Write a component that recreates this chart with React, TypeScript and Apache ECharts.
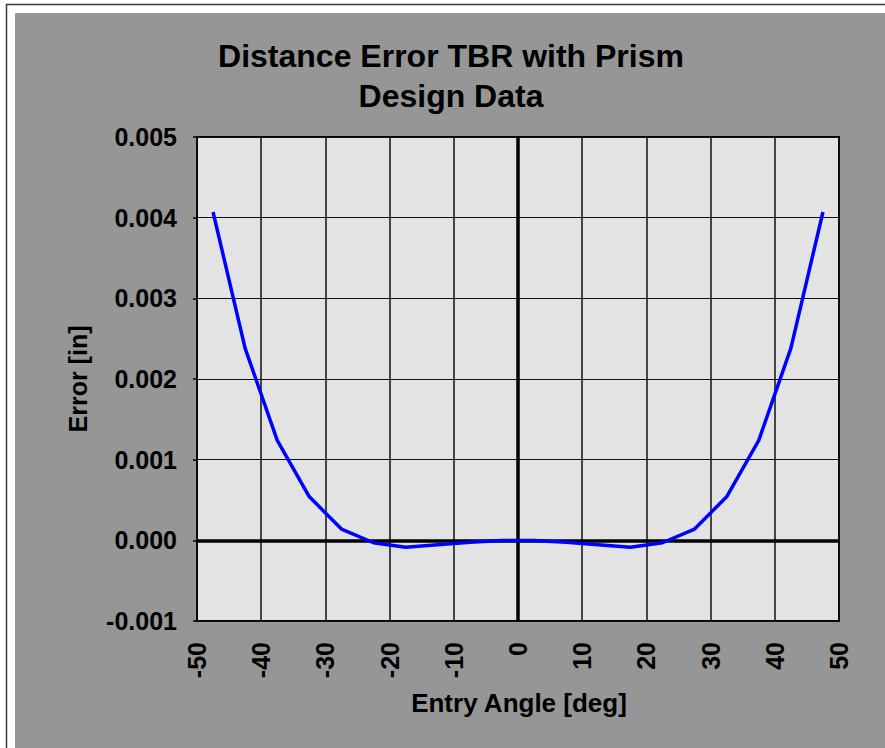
import React, { useEffect, useRef } from "react";
import * as echarts from "echarts";

const chartTitle = "Distance Error TBR with Prism\nDesign Data";
const xAxisName = "Entry Angle [deg]";
const yAxisName = "Error [in]";
const entryAngles = [-47.5, -42.5, -37.5, -32.5, -27.5, -22.5, -17.5, -12.5, -7.5, -2.5, 2.5, 7.5, 12.5, 17.5, 22.5, 27.5, 32.5, 37.5, 42.5, 47.5];
const errorValues = [0.00407, 0.00238, 0.00124, 0.00054, 0.00014, -0.00003, -0.000085, -0.000055, -0.000025, -0.000003, -0.000003, -0.000025, -0.000055, -0.000085, -0.00003, 0.00014, 0.00054, 0.00124, 0.00238, 0.00407];

const FONT = "'Liberation Sans', Arial, sans-serif";

export default function App() {
  const ref = useRef<HTMLDivElement>(null);
  useEffect(() => {
    if (!ref.current) return;
    const chart = echarts.init(ref.current, undefined, { renderer: "svg" });
    const data = entryAngles.map((a, i) => [a, errorValues[i]]);
    chart.setOption({
      animation: false,
      backgroundColor: "#ffffff",
      graphic: [
        {
          type: "rect",
          z: -100,
          shape: { x: 6.5, y: 4.5, width: 1000, height: 1000 },
          style: { fill: "#ffffff", stroke: "#3a3a3a", lineWidth: 1.5 },
          silent: true,
        },
        {
          type: "rect",
          z: -99,
          shape: { x: 15, y: 13, width: 1000, height: 1000 },
          style: { fill: "#969696" },
          silent: true,
        },
        {
          type: "text",
          x: 451,
          y: 36,
          style: {
            text: chartTitle,
            fill: "#000",
            fontSize: 32,
            fontWeight: "bold",
            fontFamily: FONT,
            lineHeight: 40,
            textAlign: "center",
            textVerticalAlign: "top",
          },
        },
        {
          type: "text",
          x: 519,
          y: 703,
          style: {
            text: xAxisName,
            fill: "#000",
            fontSize: 26,
            fontWeight: "bold",
            fontFamily: FONT,
            textAlign: "center",
            textVerticalAlign: "middle",
          },
        },
        {
          type: "text",
          x: 78,
          y: 379,
          rotation: Math.PI / 2,
          style: {
            text: yAxisName,
            fill: "#000",
            fontSize: 25,
            fontWeight: "bold",
            fontFamily: FONT,
            textAlign: "center",
            textVerticalAlign: "middle",
          },
        },
      ],
      grid: {
        left: 197,
        top: 137,
        width: 642,
        height: 484,
        show: true,
        backgroundColor: "#e3e3e3",
        borderColor: "#000",
        borderWidth: 2,
        containLabel: false,
      },
      xAxis: {
        type: "value",
        min: -50,
        max: 50,
        interval: 10,
        axisLine: { show: false, onZero: false },
        axisTick: { show: false },
        splitLine: { show: true, lineStyle: { color: "#111", width: 1.5 } },
        axisLabel: {
          rotate: 90,
          margin: 21,
          color: "#000",
          fontSize: 25,
          fontWeight: "bold",
          fontFamily: FONT,
          showMinLabel: true,
          showMaxLabel: true,
        },
      },
      yAxis: {
        type: "value",
        min: -0.001,
        max: 0.005,
        interval: 0.001,
        axisLine: { show: false, onZero: false },
        axisTick: { show: true, length: 4, lineStyle: { color: "#000", width: 1.5 } },
        splitLine: { show: true, lineStyle: { color: "#111", width: 1.2 } },
        axisLabel: {
          margin: 20,
          color: "#000",
          fontSize: 25,
          fontWeight: "bold",
          fontFamily: FONT,
          formatter: (v: number) => v.toFixed(3),
          showMinLabel: true,
          showMaxLabel: true,
        },
      },
      series: [
        {
          type: "line",
          data,
          showSymbol: false,
          symbol: "none",
          lineStyle: { color: "#0000ff", width: 3.5 },
          z: 5,
          markLine: {
            silent: true,
            symbol: "none",
            label: { show: false },
            lineStyle: { color: "#000", width: 3.5, type: "solid" },
            z: 3,
            data: [{ yAxis: 0 }, { xAxis: 0 }],
          },
        },
      ],
    });
    return () => chart.dispose();
  }, []);
  return (
    <div
      ref={ref}
      style={{ position: "absolute", left: 0, top: 0, width: 885, height: 748 }}
    />
  );
}
